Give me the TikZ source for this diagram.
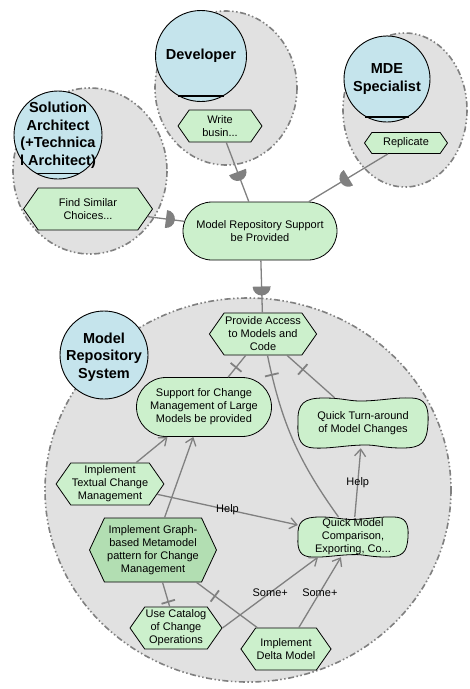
\documentclass[tikz,border=0pt]{standalone}
\usepackage{fontspec}
\setmainfont{Liberation Sans}
\usetikzlibrary{shapes.misc,shapes.symbols,arrows.meta,decorations.markings}
\definecolor{boundgray}{RGB}{225,225,225}
\definecolor{dashgray}{RGB}{128,128,128}
\definecolor{linkgray}{RGB}{128,128,128}
\definecolor{actorblue}{RGB}{197,228,236}
\definecolor{elemgreen}{RGB}{204,240,204}
\definecolor{darkgreen}{RGB}{178,222,178}
\newcommand{\nodefont}{\fontsize{11}{13}\selectfont}
\newcommand{\softgoal}[3]{%
	\begin{scope}[shift={#1}]
		\draw[sgline] (-#2,0) .. controls (-#2-1,-0.8*#3) and (-0.9*#2,-#3) .. (-0.6*#2,-#3)
			.. controls (-0.3*#2,-#3) and (-0.2*#2,-0.86*#3) .. (0,-0.88*#3)
			.. controls (0.3*#2,-0.9*#3) and (0.5*#2,-1.03*#3) .. (0.75*#2,-#3)
			.. controls (0.95*#2,-0.98*#3) and (#2+1,-0.7*#3) .. (#2,0)
			.. controls (#2-1,0.8*#3) and (0.9*#2,#3) .. (0.6*#2,#3)
			.. controls (0.3*#2,#3) and (0.2*#2,0.86*#3) .. (0,0.88*#3)
			.. controls (-0.3*#2,0.9*#3) and (-0.5*#2,1.03*#3) .. (-0.75*#2,#3)
			.. controls (-0.95*#2,0.98*#3) and (-#2-1,0.7*#3) .. (-#2,0) -- cycle;
	\end{scope}}
\begin{document}
\begin{tikzpicture}[x=1pt,y=-1pt]
		\tikzstyle{boundary}=[fill=boundgray,draw=dashgray,line width=1.6pt,dash pattern=on 6pt off 2.5pt on 1.5pt off 2.5pt on 1.5pt off 2.5pt]
		\tikzstyle{actor}=[circle,draw=black,line width=0.9pt,fill=actorblue,inner sep=0pt]
		\tikzstyle{actorname}=[font=\fontsize{14.5}{17.5}\selectfont\bfseries,align=center,inner sep=0pt]
		\tikzstyle{actorbar}=[line width=1.8pt]
		\tikzstyle{task}=[signal,signal to=east and west,signal pointer angle=110,draw=black,line width=0.8pt,fill=elemgreen,inner sep=1pt,align=center,font=\nodefont]
		\tikzstyle{goal}=[rounded rectangle,draw=black,line width=0.8pt,fill=elemgreen,inner sep=1pt,align=center,font=\nodefont]
		\tikzstyle{sgline}=[draw=black,line width=0.8pt,fill=elemgreen]
		\tikzstyle{sgtext}=[rectangle,inner sep=1pt,align=center,font=\nodefont]
		\tikzstyle{link}=[draw=linkgray,line width=1.3pt]
		\tikzstyle{contrib}=[link,-{Straight Barb[length=7pt,width=11pt]}]
		\tikzstyle{dep}=[link,postaction={decorate,decoration={markings,mark=at position .5 with {\fill[linkgray] (0,-9pt) arc[start angle=-90,end angle=90,radius=9pt] -- cycle;}}}]
		\tikzstyle{bar}=[rectangle,fill=linkgray,inner sep=0pt,minimum width=1.8pt,minimum height=14pt,sloped,allow upside down]
		\tikzstyle{lbl}=[font=\nodefont,inner sep=1pt]
		\useasboundingbox (0,0) rectangle (470,689);
		\draw[boundary] (90,171) ellipse [x radius=77,y radius=83];
		\draw[boundary] (226,88) ellipse [x radius=71,y radius=77];
		\draw[boundary] (405,110) ellipse [x radius=62,y radius=77];
		\draw[boundary] (248,490) ellipse [x radius=203,y radius=192];
		\node[actor,minimum size=88pt] (a_sa) at (58,135) {};
		\node[actorname] (a_sa_n) at (a_sa) {Solution\\Architect\\(+Technica\\l Architect)};
		\draw[actorbar] (a_sa.-120) -- (a_sa.-60);
		\node[actor,minimum size=91pt] (a_dev) at (201,56) {};
		\node[actorname] (a_dev_n) at (a_dev) {Developer};
		\draw[actorbar] (a_dev.-120) -- (a_dev.-60);
		\node[actor,minimum size=86pt] (a_mde) at (387,79) {};
		\node[actorname] (a_mde_n) at (a_mde) {MDE\\Specialist};
		\draw[actorbar] (a_mde.-120) -- (a_mde.-60);
		\node[actor,minimum size=88pt] (a_mrs) at (104,355) {};
		\node[actorname] (a_mrs_n) at ([yshift=-2pt]a_mrs.center) {Model\\Repository\\System};
		\softgoal{(363,423)}{65}{25}
		\softgoal{(353,537)}{55}{20}
		\node[task,minimum width=84pt,minimum height=32pt] (t_write) at (220,126) {Write\\busin...};
		\node[task,minimum width=83pt,minimum height=21pt] (t_rep) at (406,143) {Replicate};
		\node[task,minimum width=129pt,minimum height=42pt] (t_find) at (88,209) {Find Similar\\Choices...};
		\node[goal,minimum width=156pt,minimum height=58pt] (g_mrs) at (260,231) {Model Repository Support\\be Provided};
		\node[task,minimum width=107pt,minimum height=42pt] (t_prov) at (263,334) {Provide Access\\to Models and\\Code};
		\node[goal,minimum width=137pt,minimum height=59pt] (g_chg) at (204,407) {Support for Change\\Management of Large\\Models be provided};
		\node[sgtext,minimum width=130pt,minimum height=50pt] (s_qta) at (363,423) {Quick Turn-around\\of Model Changes};
		\node[task,minimum width=106pt,minimum height=42pt] (t_text) at (110,484) {Implement\\Textual Change\\Management};
		\node[task,fill=darkgreen,signal pointer angle=130,minimum width=127pt,minimum height=64pt] (t_graph) at (153,550) {Implement Graph-\\based Metamodel\\pattern for Change\\Management};
		\node[sgtext,minimum width=110pt,minimum height=40pt] (s_qmc) at (353,537) {Quick Model\\Comparison,\\Exporting, Co...};
		\node[task,minimum width=86pt,minimum height=42pt] (t_cat) at (176,628) {Use Catalog\\of Change\\Operations};
		\node[task,minimum width=85pt,minimum height=42pt] (t_delta) at (286,649) {Implement\\Delta Model};
		\draw[dep] (t_write) -- (g_mrs);
		\draw[dep] (t_rep) -- (g_mrs);
		\draw[dep] (t_find) -- (g_mrs);
		\draw[dep] (g_mrs) -- (t_prov);
		\draw[link] (t_prov) -- node[bar,pos=.55] (b_chg) {} (g_chg);
		\draw[link] (t_prov) to[bend right=12] node[bar,pos=.1] (b_qmc) {} (s_qmc);
		\draw[link] (t_prov) -- node[bar,pos=.33] (b_qta) {} (s_qta);
		\draw[link] (t_graph) -- node[bar,pos=.8] (b_cat) {} (t_cat);
		\draw[link] (t_graph) -- node[bar,pos=.3] (b_delta) {} (t_delta);
		\draw[contrib] (t_text) -- (g_chg);
		\draw[contrib] (t_graph) -- (g_chg);
		\draw[contrib] (t_text) -- node[lbl] (l_help1) {Help} (s_qmc);
		\draw[contrib] (s_qmc) -- node[lbl] (l_help2) {Help} (s_qta);
		\draw[contrib] (t_cat.east) -- node[lbl] (l_some1) {Some+} ([xshift=-35pt]s_qmc.south);
		\draw[contrib] (t_delta) -- node[lbl] (l_some2) {Some+} (s_qmc);
	\end{tikzpicture}
\end{document}
